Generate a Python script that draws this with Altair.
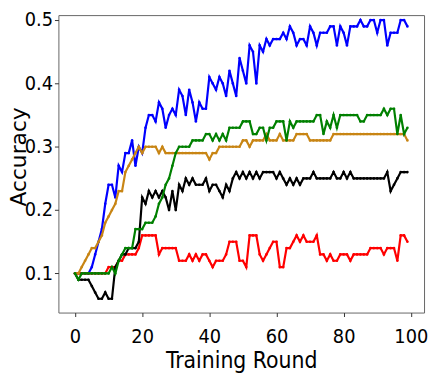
import altair as alt
import pandas as pd

rounds = list(range(100))

blue = [0.10,0.10,0.10,0.10,0.10,0.11,0.13,0.15,0.17,0.21,
        0.24,0.24,0.22,0.27,0.26,0.29,0.29,0.31,0.27,0.30,
        0.29,0.33,0.35,0.35,0.34,0.37,0.36,0.33,0.35,0.36,
        0.35,0.39,0.38,0.35,0.39,0.37,0.34,0.37,0.36,0.36,
        0.41,0.40,0.39,0.41,0.40,0.38,0.42,0.40,0.38,0.44,
        0.42,0.40,0.46,0.45,0.40,0.46,0.45,0.47,0.46,0.47,
        0.47,0.47,0.48,0.47,0.49,0.48,0.46,0.47,0.47,0.46,
        0.49,0.48,0.46,0.48,0.48,0.48,0.49,0.49,0.46,0.49,
        0.48,0.46,0.49,0.49,0.49,0.50,0.49,0.49,0.50,0.50,
        0.48,0.50,0.50,0.46,0.48,0.48,0.48,0.50,0.50,0.49]

green = [0.10,0.09,0.10,0.10,0.10,0.10,0.10,0.10,0.10,0.10,
         0.10,0.11,0.10,0.12,0.13,0.14,0.14,0.14,0.17,0.17,
         0.17,0.18,0.18,0.18,0.19,0.21,0.22,0.24,0.25,0.27,
         0.29,0.30,0.30,0.30,0.30,0.31,0.31,0.31,0.31,0.32,
         0.32,0.31,0.32,0.31,0.32,0.31,0.33,0.33,0.33,0.33,
         0.34,0.34,0.34,0.32,0.32,0.33,0.33,0.31,0.33,0.33,
         0.34,0.34,0.34,0.31,0.34,0.33,0.34,0.34,0.34,0.34,
         0.34,0.34,0.35,0.35,0.32,0.34,0.33,0.35,0.33,0.35,
         0.35,0.35,0.35,0.35,0.35,0.34,0.34,0.35,0.35,0.35,
         0.35,0.35,0.36,0.35,0.36,0.36,0.32,0.35,0.32,0.33]

orange = [0.10,0.10,0.11,0.12,0.13,0.14,0.14,0.15,0.16,0.18,
          0.19,0.20,0.21,0.23,0.23,0.26,0.27,0.28,0.29,0.30,
          0.29,0.30,0.30,0.30,0.30,0.29,0.30,0.29,0.29,0.29,
          0.29,0.29,0.29,0.29,0.29,0.29,0.29,0.29,0.29,0.29,
          0.28,0.29,0.29,0.30,0.30,0.30,0.30,0.30,0.30,0.30,
          0.31,0.31,0.30,0.31,0.31,0.31,0.31,0.32,0.31,0.31,
          0.31,0.32,0.31,0.31,0.31,0.31,0.32,0.32,0.32,0.32,
          0.31,0.31,0.31,0.31,0.31,0.31,0.31,0.32,0.32,0.32,
          0.32,0.32,0.32,0.32,0.32,0.32,0.32,0.32,0.32,0.32,
          0.32,0.32,0.32,0.32,0.32,0.32,0.32,0.32,0.32,0.31]

black = [0.10,0.09,0.09,0.09,0.09,0.08,0.07,0.06,0.06,0.07,
         0.06,0.06,0.11,0.12,0.13,0.13,0.14,0.14,0.14,0.15,
         0.22,0.21,0.23,0.22,0.23,0.22,0.23,0.22,0.20,0.23,
         0.20,0.24,0.23,0.25,0.24,0.25,0.24,0.24,0.24,0.25,
         0.23,0.24,0.24,0.23,0.22,0.24,0.23,0.25,0.26,0.25,
         0.26,0.25,0.26,0.25,0.26,0.25,0.26,0.26,0.26,0.26,
         0.25,0.26,0.25,0.24,0.25,0.24,0.25,0.24,0.25,0.25,
         0.25,0.26,0.25,0.25,0.25,0.25,0.25,0.26,0.25,0.25,
         0.26,0.25,0.26,0.25,0.25,0.25,0.25,0.25,0.25,0.25,
         0.25,0.25,0.25,0.26,0.23,0.24,0.25,0.26,0.26,0.26]

red = [0.10,0.10,0.10,0.10,0.10,0.10,0.10,0.10,0.10,0.10,
       0.11,0.11,0.11,0.12,0.12,0.13,0.13,0.13,0.13,0.14,
       0.16,0.16,0.16,0.16,0.16,0.13,0.14,0.14,0.14,0.14,
       0.14,0.12,0.12,0.12,0.13,0.12,0.13,0.12,0.13,0.13,
       0.12,0.11,0.12,0.12,0.12,0.13,0.15,0.15,0.15,0.12,
       0.12,0.11,0.16,0.16,0.16,0.13,0.12,0.13,0.14,0.15,
       0.15,0.11,0.11,0.14,0.14,0.15,0.16,0.15,0.16,0.15,
       0.15,0.15,0.16,0.13,0.13,0.12,0.13,0.12,0.12,0.13,
       0.13,0.13,0.12,0.13,0.13,0.13,0.13,0.13,0.14,0.14,
       0.14,0.14,0.13,0.14,0.14,0.14,0.12,0.16,0.16,0.15]

series_names = ["blue", "red", "black", "orange", "green"]
series_values = [blue, red, black, orange, green]
series_colors = ["#0000ff", "#ff0000", "#000000", "#c88514", "#008000"]

x_ticks = [0, 20, 40, 60, 80, 100]
y_ticks = [0.1, 0.2, 0.3, 0.4, 0.5]

FONT = "DejaVu Sans Condensed, DejaVu Sans"

x_scale = alt.Scale(domain=[-4.95, 103.95], nice=False, zero=False)
y_scale = alt.Scale(domain=[0.0382, 0.5078], nice=False, zero=False)

layers = []
for name, vals, col in zip(series_names, series_values, series_colors):
    df = pd.DataFrame({"round": rounds, "acc": vals, "series": name})
    layers.append(
        alt.Chart(df).mark_line(
            color=col, strokeWidth=2.2,
            point=alt.OverlayMarkDef(filled=True, size=7, color=col)
        ).encode(
            x=alt.X("round:Q", scale=x_scale,
                    axis=alt.Axis(values=x_ticks, title="Training Round", format="d",
                                  labelPadding=10, titlePadding=4,
                                  titleFontSize=23)),
            y=alt.Y("acc:Q", scale=y_scale,
                    axis=alt.Axis(values=y_ticks, title="Accuracy", format=".1f",
                                  labelPadding=2,
                                  titleFont="DejaVu Sans", titleFontSize=22,
                                  titleX=-33, titleY=143,
                                  titleBaseline="alphabetic", titleAngle=270)),
        )
    )

chart = alt.layer(*layers).properties(
    width=370, height=301,
    autosize=alt.AutoSizeParams(type="none"),
    padding={"left": 51, "top": 5, "right": 4, "bottom": 62},
).configure_view(
    stroke="#666666", strokeWidth=1
).configure_axis(
    grid=False,
    domain=False,
    tickColor="#333333",
    tickSize=4,
    labelFont=FONT,
    labelFontSize=20,
    labelColor="#000000",
    titleFont=FONT,
    titleFontWeight="normal",
    titleColor="#000000",
)

chart.save("out.html", embed_options={"renderer": "svg", "actions": False})
